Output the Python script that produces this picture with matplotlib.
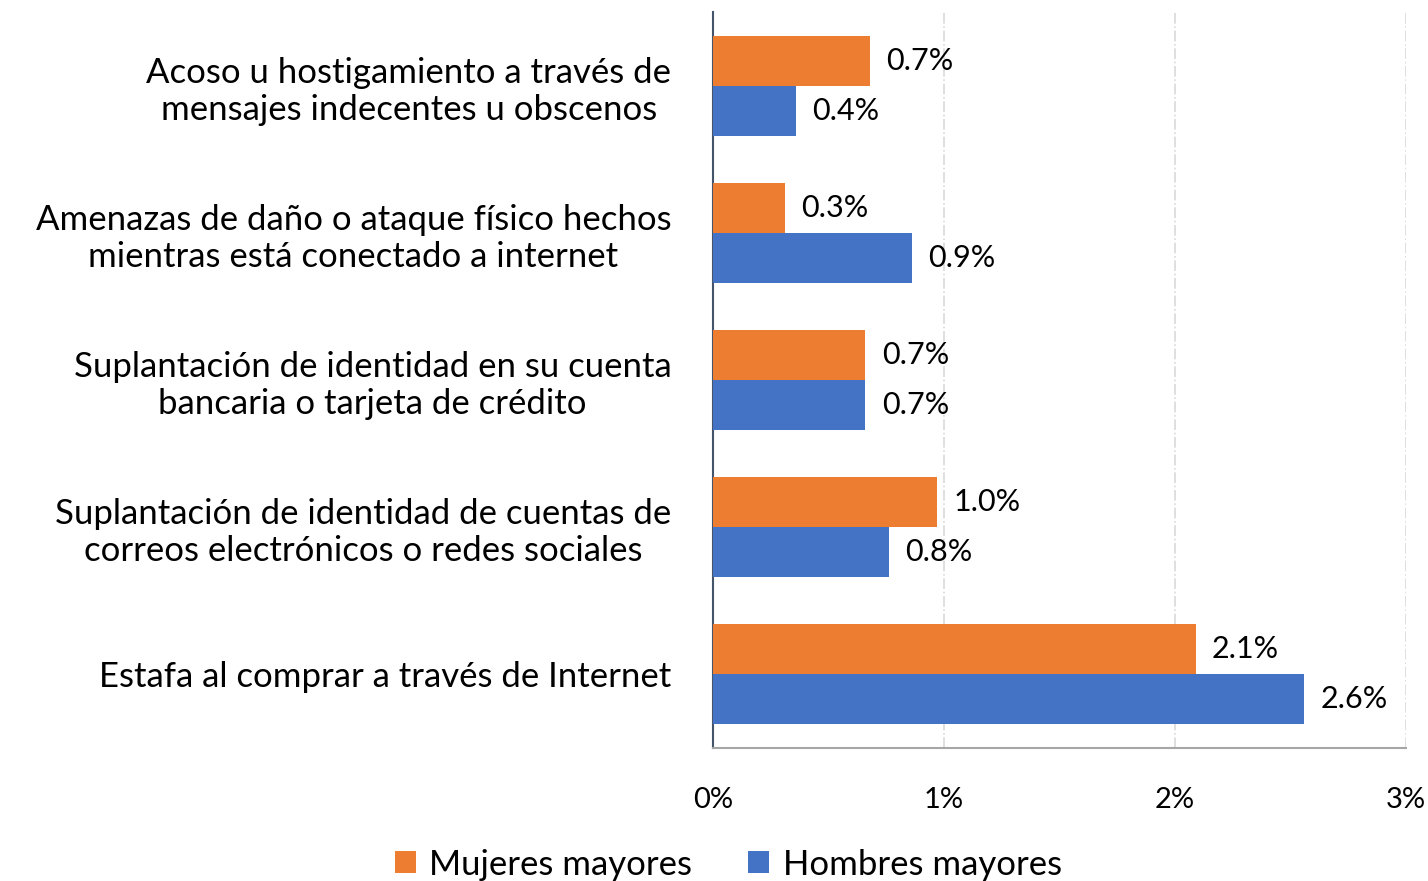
import numpy as np
import matplotlib.pyplot as plt

# datos
categorias = [
    "Acoso u hostigamiento a través de\nmensajes indecentes u obscenos",
    "Amenazas de daño o ataque físico hechos\nmientras está conectado a internet",
    "Suplantación de identidad en su cuenta\nbancaria o tarjeta de crédito",
    "Suplantación de identidad de cuentas de\ncorreos electrónicos o redes sociales",
    "Estafa al comprar a través de Internet",
]
mujeres = [0.68, 0.31, 0.66, 0.97, 2.09]
hombres = [0.36, 0.86, 0.66, 0.76, 2.56]
series = ["Mujeres mayores", "Hombres mayores"]
ticks = [0, 1, 2, 3]

plt.rcParams['font.family'] = ['Lato', 'DejaVu Sans']

fig = plt.figure(figsize=(14.28, 8.81), dpi=100)
ax = fig.add_axes([0.4993, 0.151, 0.4853, 0.8354])

y = np.arange(len(categorias))
h = 0.34
b1 = ax.barh(y - h / 2, mujeres, height=h, color='#ED7D31', label=series[0], zorder=3)
b2 = ax.barh(y + h / 2, hombres, height=h, color='#4472C4', label=series[1], zorder=3)

for bars, vals in [(b1, mujeres), (b2, hombres)]:
    for bar, v in zip(bars, vals):
        ax.text(v + 0.07, bar.get_y() + bar.get_height() / 2, f"{v:.1f}%",
                va='center', ha='left', fontsize=22, color='black')

ax.set_ylim(len(categorias) - 0.5, -0.5)
ax.set_xlim(0, 3)
ax.set_xticks(ticks)
ax.set_xticklabels([f"{t}%" for t in ticks], fontsize=21)
ax.tick_params(axis='x', length=0, pad=28)
ax.set_yticks(y)
ax.set_yticklabels(categorias, fontsize=25, multialignment='center', linespacing=1.2)
ax.tick_params(axis='y', length=0, pad=30)

ax.grid(axis='x', color='#D9D9D9', linestyle='-.', linewidth=1.2, zorder=0)
for s in ['top', 'right']:
    ax.spines[s].set_visible(False)
ax.spines['left'].set_color('#44546A')
ax.spines['bottom'].set_color('#A6A6A6')
ax.spines['left'].set_linewidth(1.5)
ax.spines['bottom'].set_linewidth(1.5)

fig.legend(handles=[b1, b2], labels=series, loc='lower center',
           bbox_to_anchor=(0.51, -0.035), ncol=2, frameon=False, fontsize=25,
           handlelength=0.6, handleheight=0.6, columnspacing=1.6, handletextpad=0.4)

fig.savefig('out.png', dpi=100)
